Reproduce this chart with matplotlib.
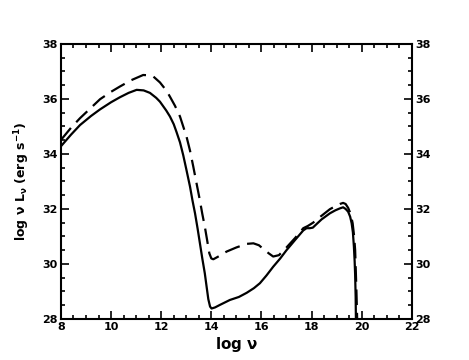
#!/usr/bin/env python3
"""Broadband SED: two model spectra, log nu L_nu against log nu."""

import matplotlib
matplotlib.use("Agg")
import matplotlib.pyplot as plt
from matplotlib.ticker import MultipleLocator

# solid curve
solid_lognu = [8.0, 8.4, 8.76, 9.2, 9.56, 10.0, 10.35, 10.7, 11.02, 11.3, 11.55,
               11.8, 11.95, 12.2, 12.35, 12.5, 12.61, 12.75, 12.88, 13.0, 13.15,
               13.25, 13.35, 13.45, 13.54, 13.64, 13.74, 13.82, 13.88, 13.95, 14.01,
               14.15, 14.34, 14.74, 15.1, 15.41, 15.7, 15.94, 16.2, 16.47, 16.75,
               17.0, 17.35, 17.67, 17.8, 17.93, 18.05, 18.2, 18.4, 18.73, 18.95,
               19.13, 19.26, 19.36, 19.46, 19.54, 19.6, 19.65, 19.69, 19.72, 19.74,
               19.76, 19.77]
solid_lognuL = [34.28, 34.7, 35.05, 35.38, 35.62, 35.88, 36.06, 36.22, 36.33, 36.31,
                36.22, 36.04, 35.9, 35.58, 35.36, 35.08, 34.8, 34.42, 33.95, 33.45,
                32.81, 32.3, 31.84, 31.3, 30.78, 30.2, 29.66, 29.12, 28.72, 28.45,
                28.38, 28.42, 28.51, 28.69, 28.8, 28.95, 29.12, 29.3, 29.58, 29.9,
                30.2, 30.5, 30.88, 31.22, 31.3, 31.3, 31.32, 31.45, 31.62, 31.84,
                31.95, 32.02, 32.06, 32.0, 31.9, 31.72, 31.48, 31.15, 30.63, 30.1,
                29.6, 28.8, 28.0]

# dashed curve
dashed_lognu = [8.0, 8.4, 8.76, 9.2, 9.56, 10.0, 10.35, 10.8, 11.28, 11.5, 11.68,
                11.95, 12.21, 12.35, 12.55, 12.75, 13.01, 13.15, 13.28, 13.4, 13.54,
                13.64, 13.74, 13.83, 13.92, 14.0, 14.08, 14.3, 14.61, 15.0, 15.41,
                15.68, 15.9, 16.07, 16.3, 16.47, 16.7, 17.0, 17.35, 17.67, 17.85,
                18.06, 18.3, 18.73, 18.95, 19.13, 19.26, 19.36, 19.46, 19.56, 19.64,
                19.7, 19.74, 19.79, 19.82]
dashed_lognuL = [34.51, 34.95, 35.3, 35.68, 35.99, 36.26, 36.45, 36.68, 36.87, 36.86,
                 36.82, 36.6, 36.3, 36.08, 35.75, 35.36, 34.63, 34.12, 33.54, 32.98,
                 32.33, 31.82, 31.36, 30.88, 30.39, 30.2, 30.17, 30.28, 30.45, 30.6,
                 30.73, 30.75, 30.68, 30.55, 30.38, 30.27, 30.32, 30.6, 30.95, 31.3,
                 31.38, 31.5, 31.68, 31.99, 32.1, 32.18, 32.22, 32.18, 32.04, 31.82,
                 31.48, 31.0, 30.5, 29.05, 28.0]

fig = plt.figure(figsize=(4.69, 3.6), dpi=100)
ax = fig.add_axes([0.130, 0.114, 0.748, 0.764])

ax.plot(solid_lognu, solid_lognuL, color="black", lw=1.6)
ax.plot(dashed_lognu, dashed_lognuL, color="black", lw=1.6, dashes=(7, 3.5))

ax.set_xlim(8, 22)
ax.set_ylim(28, 38)
ax.xaxis.set_major_locator(MultipleLocator(2))
ax.xaxis.set_minor_locator(MultipleLocator(0.5))
ax.yaxis.set_major_locator(MultipleLocator(2))
ax.yaxis.set_minor_locator(MultipleLocator(0.5))

ax.tick_params(which="both", direction="in", top=True, right=True,
               labelright=True, width=1.2)
ax.tick_params(which="major", length=6, labelsize=8, pad=2.5)
ax.tick_params(which="minor", length=3)
for lbl in ax.get_xticklabels() + ax.get_yticklabels() + ax.yaxis.get_ticklabels(which="major"):
    lbl.set_fontweight("bold")
for side in ax.spines.values():
    side.set_linewidth(1.5)

ax.set_xlabel(r"log $\mathregular{\nu}$", fontsize=11, fontweight="bold", labelpad=2)
ax.set_ylabel(r"log $\mathregular{\nu}$ L$_{\mathregular{\nu}}$ (erg s$^{\mathbf{-1}}$)",
              fontsize=9, fontweight="bold", labelpad=7)

fig.savefig("out.png", dpi=100)
